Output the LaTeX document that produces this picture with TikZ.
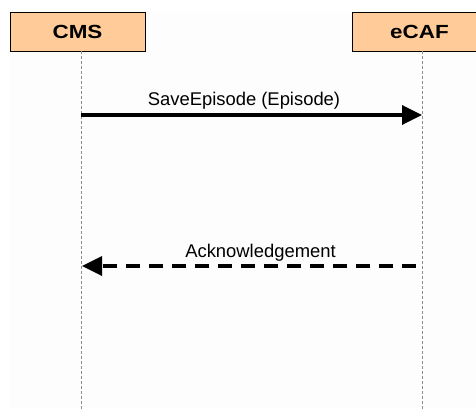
\documentclass[tikz,border=0pt]{standalone}
\usepackage{fontspec}
\setmainfont{Liberation Sans}
\usetikzlibrary{arrows.meta}
\definecolor{actorfill}{RGB}{255,204,153}
\definecolor{panel}{RGB}{253,253,253}
\definecolor{lifegrey}{RGB}{140,140,140}
\tikzset{
  actor/.style={draw=black, line width=0.8pt, fill=actorfill,
    minimum width=135pt, minimum height=39pt, inner sep=0pt,
    font=\fontsize{19pt}{19pt}\selectfont\bfseries},
  lifeline/.style={draw=lifegrey, line width=0.9pt, dash pattern=on 3pt off 2pt},
  msg/.style={line width=3.5pt, -{Triangle[length=20pt, width=19pt]}},
  reply/.style={msg, dash pattern=on 14pt off 9pt},
  msglabel/.style={anchor=base, inner sep=0pt, font=\fontsize{18.4pt}{18.4pt}\selectfont}
}
\begin{document}
\begin{tikzpicture}[x=1pt, y=-1pt]
  \useasboundingbox (0,0) rectangle (476,409);
  \clip (0,0) rectangle (476,409);
  % diagram panel
  \fill[panel] (10,12) rectangle (476,408);
  % participants
  \node[actor] (cms) at (77.5,31.5) {\scalebox{1.18}[1]{CMS}};
  \node[actor] (ecaf) at (419.5,31.5) {\scalebox{1.18}[1]{eCAF}};
  % lifelines
  \coordinate (cmsTop) at (81,51);
  \coordinate (cmsBot) at (81,409);
  \coordinate (ecafTop) at (422,51);
  \coordinate (ecafBot) at (422,409);
  \draw[lifeline] (cmsTop) -- (cmsBot);
  \draw[lifeline] (ecafTop) -- (ecafBot);
  % messages
  \coordinate (m1s) at (81,115);
  \coordinate (m1e) at (422,115);
  \coordinate (m2s) at (416,266);
  \coordinate (m2e) at (82,266);
  \draw[msg] (m1s) -- (m1e);
  \draw[reply] (m2s) -- (m2e);
  \node[msglabel] (l1) at (244,106) {SaveEpisode (Episode)};
  \node[msglabel] (l2) at (260.5,257.5) {Acknowledgement};
\end{tikzpicture}
\end{document}
